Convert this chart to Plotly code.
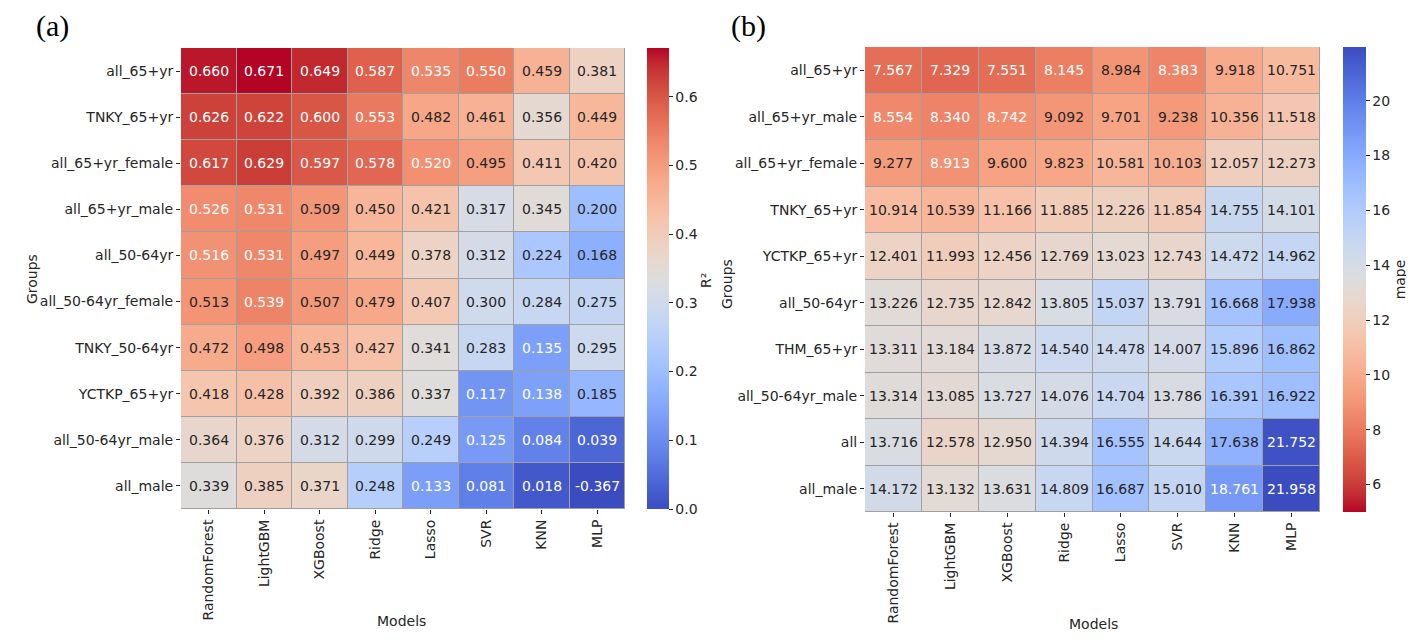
import plotly.graph_objects as go

# ---- data ----
models = ["RandomForest", "LightGBM", "XGBoost", "Ridge", "Lasso", "SVR", "KNN", "MLP"]

groups_r2 = ["all_65+yr", "TNKY_65+yr", "all_65+yr_female", "all_65+yr_male",
             "all_50-64yr", "all_50-64yr_female", "TNKY_50-64yr", "YCTKP_65+yr",
             "all_50-64yr_male", "all_male"]
r2 = [
    [0.660, 0.671, 0.649, 0.587, 0.535, 0.550, 0.459, 0.381],
    [0.626, 0.622, 0.600, 0.553, 0.482, 0.461, 0.356, 0.449],
    [0.617, 0.629, 0.597, 0.578, 0.520, 0.495, 0.411, 0.420],
    [0.526, 0.531, 0.509, 0.450, 0.421, 0.317, 0.345, 0.200],
    [0.516, 0.531, 0.497, 0.449, 0.378, 0.312, 0.224, 0.168],
    [0.513, 0.539, 0.507, 0.479, 0.407, 0.300, 0.284, 0.275],
    [0.472, 0.498, 0.453, 0.427, 0.341, 0.283, 0.135, 0.295],
    [0.418, 0.428, 0.392, 0.386, 0.337, 0.117, 0.138, 0.185],
    [0.364, 0.376, 0.312, 0.299, 0.249, 0.125, 0.084, 0.039],
    [0.339, 0.385, 0.371, 0.248, 0.133, 0.081, 0.018, -0.367],
]

groups_mape = ["all_65+yr", "all_65+yr_male", "all_65+yr_female", "TNKY_65+yr",
               "YCTKP_65+yr", "all_50-64yr", "THM_65+yr", "all_50-64yr_male",
               "all", "all_male"]
mape = [
    [7.567, 7.329, 7.551, 8.145, 8.984, 8.383, 9.918, 10.751],
    [8.554, 8.340, 8.742, 9.092, 9.701, 9.238, 10.356, 11.518],
    [9.277, 8.913, 9.600, 9.823, 10.581, 10.103, 12.057, 12.273],
    [10.914, 10.539, 11.166, 11.885, 12.226, 11.854, 14.755, 14.101],
    [12.401, 11.993, 12.456, 12.769, 13.023, 12.743, 14.472, 14.962],
    [13.226, 12.735, 12.842, 13.805, 15.037, 13.791, 16.668, 17.938],
    [13.311, 13.184, 13.872, 14.540, 14.478, 14.007, 15.896, 16.862],
    [13.314, 13.085, 13.727, 14.076, 14.704, 13.786, 16.391, 16.922],
    [13.716, 12.578, 12.950, 14.394, 16.555, 14.644, 17.638, 21.752],
    [14.172, 13.132, 13.631, 14.809, 16.687, 15.010, 18.761, 21.958],
]

r2_ticks = [0.0, 0.1, 0.2, 0.3, 0.4, 0.5, 0.6]
mape_ticks = [6, 8, 10, 12, 14, 16, 18, 20]

# coolwarm (Moreland diverging table)
cw = [
    (59, 76, 192), (68, 90, 204), (77, 104, 215), (87, 117, 225), (98, 130, 234),
    (108, 142, 241), (119, 154, 247), (130, 165, 251), (141, 176, 254), (152, 185, 255),
    (163, 194, 255), (174, 201, 253), (184, 208, 249), (194, 213, 244), (204, 217, 238),
    (213, 219, 230), (221, 221, 221), (229, 216, 209), (236, 211, 197), (241, 204, 185),
    (245, 196, 173), (247, 187, 160), (247, 177, 148), (247, 166, 135), (244, 154, 123),
    (241, 141, 111), (236, 127, 99), (229, 112, 88), (222, 96, 77), (213, 80, 66),
    (203, 62, 56), (192, 40, 47), (180, 4, 38),
]
coolwarm = [[i / (len(cw) - 1), "rgb(%d,%d,%d)" % c] for i, c in enumerate(cw)]

FONT = "DejaVu Sans"
FS = 14
DARK = "#262626"
# the page body adds an 8px margin, so the figure is a bit smaller than the window
OFF = 8
W, H = 1414 - OFF, 640 - OFF


def px(x):
    # window pixel -> paper x
    return (x - OFF) / W


def py(y):
    # window pixel -> paper y
    return 1 - (y - OFF) / H


def cw_color(t):
    t = min(max(t, 0.0), 1.0) * (len(cw) - 1)
    i = min(int(t), len(cw) - 2)
    f = t - i
    return [cw[i][k] + (cw[i + 1][k] - cw[i][k]) * f for k in range(3)]


def text_color(rgb):
    lin = []
    for c in rgb:
        c = c / 255
        lin.append(c / 12.92 if c <= 0.03928 else ((c + 0.055) / 1.055) ** 2.4)
    lum = 0.2126 * lin[0] + 0.7152 * lin[1] + 0.0722 * lin[2]
    return DARK if lum > 0.408 else "white"


def cell_labels(z, rows, zmin, zmax, xref, yref, reverse=False):
    out = []
    for r, row in zip(rows, z):
        for m, v in zip(models, row):
            t = (v - zmin) / (zmax - zmin)
            if reverse:
                t = 1 - t
            out.append(dict(x=m, y=r, xref=xref, yref=yref, text="%.3f" % v,
                            showarrow=False, xanchor="center", yanchor="middle",
                            font=dict(family=FONT, size=FS, color=text_color(cw_color(t)))))
    return out


r2_min, r2_max = 0.0, 0.671
mape_min, mape_max = 5.0, 21.958

fig = go.Figure()

fig.add_trace(go.Heatmap(
    z=r2, x=models, y=groups_r2, xaxis="x", yaxis="y",
    colorscale=coolwarm, zmin=r2_min, zmax=r2_max, xgap=1, ygap=1,
    hoverinfo="skip",
    colorbar=dict(
        x=px(647), xanchor="left", xpad=0, y=py(48), yanchor="top", ypad=0,
        len=461 / H, lenmode="fraction", thickness=22, outlinewidth=0,
        ticks="outside", ticklen=4, tickcolor=DARK, tickvals=r2_ticks,
        ticktext=["%.1f" % v for v in r2_ticks],
        tickfont=dict(family=FONT, size=FS, color=DARK),
    ),
))

fig.add_trace(go.Heatmap(
    z=mape, x=models, y=groups_mape, xaxis="x2", yaxis="y2",
    colorscale=coolwarm, reversescale=True, zmin=mape_min, zmax=mape_max,
    xgap=1, ygap=1, hoverinfo="skip",
    colorbar=dict(
        x=px(1343), xanchor="left", xpad=0, y=py(47), yanchor="top", ypad=0,
        len=465 / H, lenmode="fraction", thickness=23, outlinewidth=0,
        ticks="outside", ticklen=4, tickcolor=DARK, tickvals=mape_ticks,
        tickfont=dict(family=FONT, size=FS, color=DARK),
        title=dict(text="mape", side="right", font=dict(family=FONT, size=FS, color=DARK)),
    ),
))

axis_common = dict(showgrid=False, zeroline=False, showline=False, ticks="outside",
                   ticklen=4, tickcolor=DARK,
                   tickfont=dict(family=FONT, size=FS, color=DARK))

fig.update_layout(
    width=W, height=H,
    margin=dict(l=0, r=0, t=0, b=0),
    paper_bgcolor="white",
    plot_bgcolor="#a0a0a0",
    xaxis=dict(domain=[px(181), px(625)], anchor="y", tickangle=-90, **axis_common),
    yaxis=dict(domain=[py(509), py(48)], anchor="x", autorange="reversed", **axis_common),
    xaxis2=dict(domain=[px(865), px(1320)], anchor="y2", tickangle=-90, **axis_common),
    yaxis2=dict(domain=[py(512), py(47)], anchor="x2", autorange="reversed", **axis_common),
    showlegend=False,
)

annotations = []
annotations += cell_labels(r2, groups_r2, r2_min, r2_max, "x", "y")
annotations += cell_labels(mape, groups_mape, mape_min, mape_max, "x2", "y2", reverse=True)

# axis titles, colorbar label and panel letters
label_font = dict(family=FONT, size=FS, color=DARK)
for text, x, y, angle in [("Groups", 32, 279, -90), ("Groups", 727, 284, -90),
                          ("R²", 706, 281, -90),
                          ("Models", 401, 621, 0), ("Models", 1093, 624, 0)]:
    annotations.append(dict(x=px(x), y=py(y), xref="paper", yref="paper", text=text,
                            textangle=angle, showarrow=False, xanchor="center",
                            yanchor="middle", font=label_font))
for text, x in [("(a)", 52), ("(b)", 748)]:
    annotations.append(dict(x=px(x), y=1, xref="paper", yref="paper", text=text,
                            showarrow=False, xanchor="center", yanchor="top", borderpad=0,
                            font=dict(family="Liberation Serif", size=30, color="black")))
fig.update_layout(annotations=annotations)

fig.write_html("out.html")
